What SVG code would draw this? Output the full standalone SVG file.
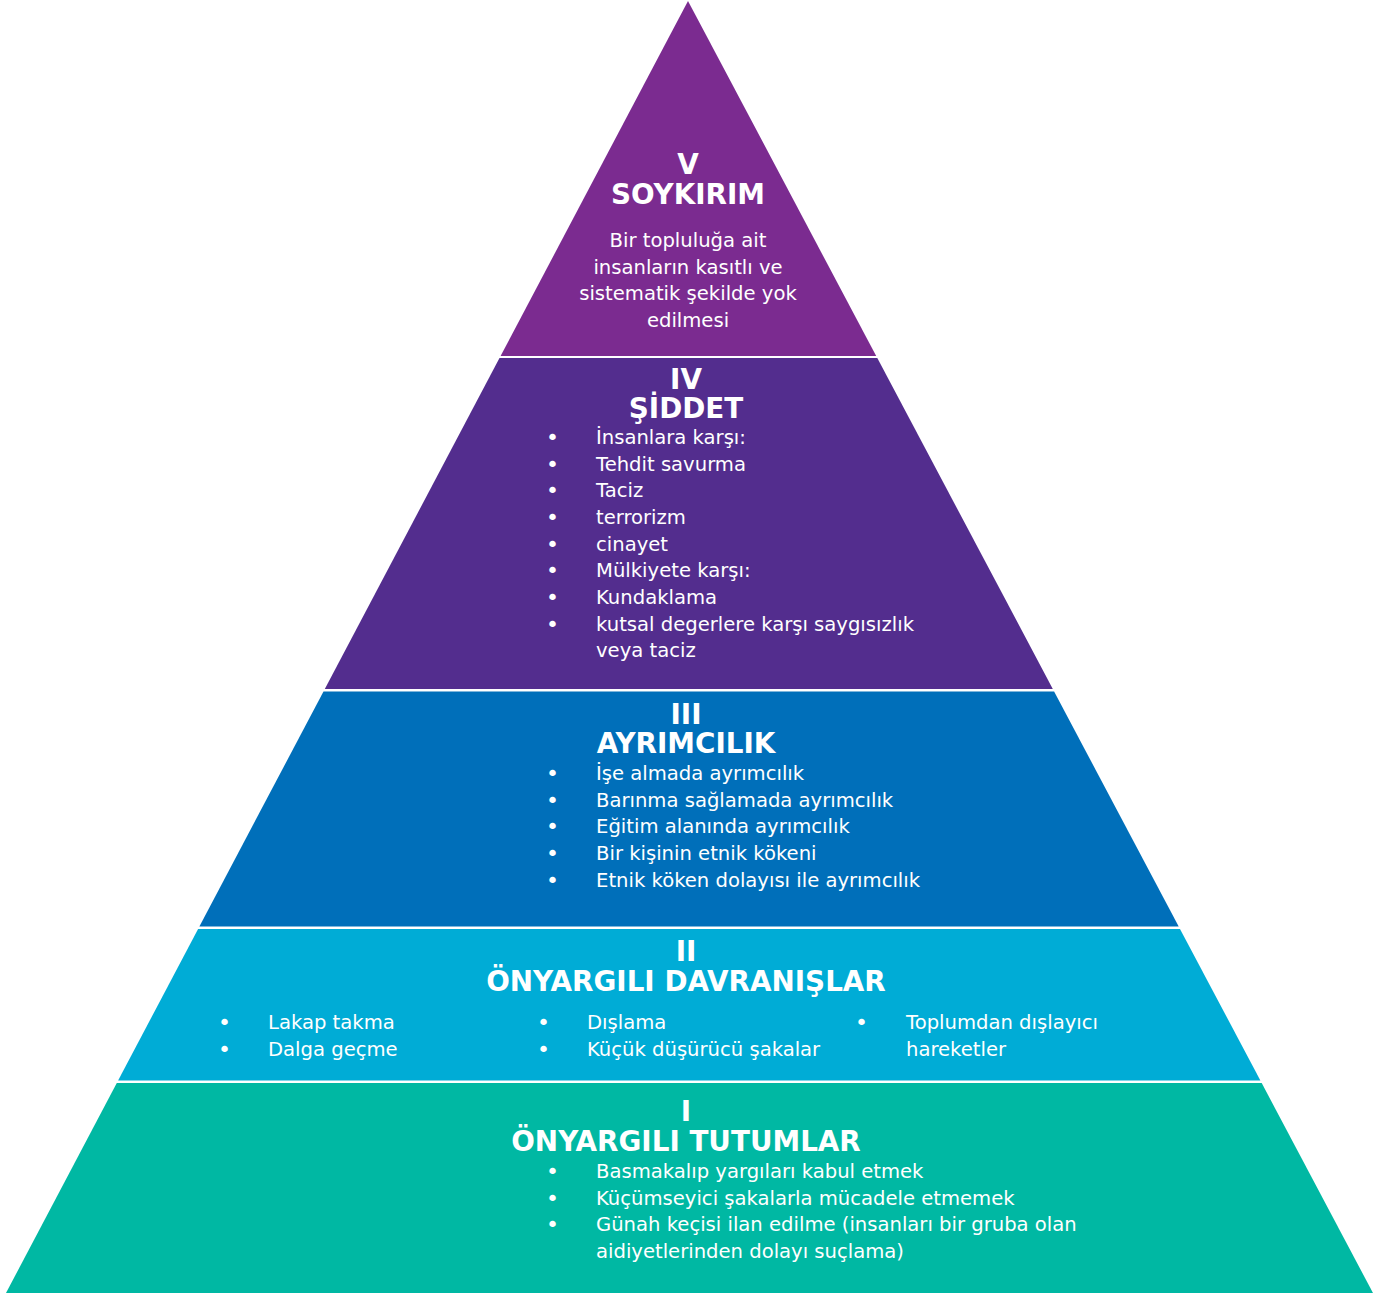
<svg xmlns="http://www.w3.org/2000/svg" width="1391" height="1293" viewBox="0 0 1391 1293">
<style>
  .t{font-family:"DejaVu Sans","Liberation Sans",sans-serif;fill:#ffffff}
  .h{font-size:27.8px;font-weight:bold;text-anchor:middle}
  .b{font-size:19.6px}
  .c{text-anchor:middle}
  .d{font-size:22px}
</style>
<rect width="1391" height="1293" fill="#ffffff"/>
<g id="level5">
  <polygon points="688,1 500.6,356 876.2,356" fill="#7B2B90"/>
  <text class="t h" x="688" y="174">V</text>
  <text class="t h" x="688" y="204">SOYKIRIM</text>
  <text class="t b c" x="688" y="247">Bir topluluğa ait</text>
  <text class="t b c" x="688" y="274">insanların kasıtlı ve</text>
  <text class="t b c" x="688" y="300">sistematik şekilde yok</text>
  <text class="t b c" x="688" y="327">edilmesi</text>
</g>
<g id="level4">
  <polygon points="499.5,358 877.3,358 1052.8,689 324.8,689" fill="#532D8E"/>
  <text class="t h" x="686" y="389">IV</text>
  <text class="t h" x="686" y="418">ŞİDDET</text>
  <g class="t b">
    <text class="d" x="546" y="445">•</text><text x="596" y="444">İnsanlara karşı:</text>
    <text class="d" x="546" y="472">•</text><text x="596" y="471">Tehdit savurma</text>
    <text class="d" x="546" y="498">•</text><text x="596" y="497">Taciz</text>
    <text class="d" x="546" y="525">•</text><text x="596" y="524">terrorizm</text>
    <text class="d" x="546" y="552">•</text><text x="596" y="551">cinayet</text>
    <text class="d" x="546" y="578">•</text><text x="596" y="577">Mülkiyete karşı:</text>
    <text class="d" x="546" y="605">•</text><text x="596" y="604">Kundaklama</text>
    <text class="d" x="546" y="632">•</text><text x="596" y="631">kutsal degerlere karşı saygısızlık</text>
    <text x="596" y="657">veya taciz</text>
  </g>
</g>
<g id="level3">
  <polygon points="323.5,691.5 1054.1,691.5 1178.7,926.5 199.4,926.5" fill="#006FBA"/>
  <text class="t h" x="686" y="724">III</text>
  <text class="t h" x="686" y="753">AYRIMCILIK</text>
  <g class="t b">
    <text class="d" x="546" y="781">•</text><text x="596" y="780">İşe almada ayrımcılık</text>
    <text class="d" x="546" y="808">•</text><text x="596" y="807">Barınma sağlamada ayrımcılık</text>
    <text class="d" x="546" y="834">•</text><text x="596" y="833">Eğitim alanında ayrımcılık</text>
    <text class="d" x="546" y="861">•</text><text x="596" y="860">Bir kişinin etnik kökeni</text>
    <text class="d" x="546" y="888">•</text><text x="596" y="887">Etnik köken dolayısı ile ayrımcılık</text>
  </g>
</g>
<g id="level2">
  <polygon points="198.1,929 1180,929 1260.4,1080.5 118.1,1080.5" fill="#00ACD6"/>
  <text class="t h" x="686" y="961">II</text>
  <text class="t h" x="686" y="991">ÖNYARGILI DAVRANIŞLAR</text>
  <g class="t b">
    <text class="d" x="218" y="1030">•</text><text x="268" y="1029">Lakap takma</text>
    <text class="d" x="218" y="1057">•</text><text x="268" y="1056">Dalga geçme</text>
    <text class="d" x="537" y="1030">•</text><text x="587" y="1029">Dışlama</text>
    <text class="d" x="537" y="1057">•</text><text x="587" y="1056">Küçük düşürücü şakalar</text>
    <text class="d" x="855" y="1030">•</text><text x="906" y="1029">Toplumdan dışlayıcı</text>
    <text x="906" y="1056">hareketler</text>
  </g>
</g>
<g id="level1">
  <polygon points="116.8,1083 1261.7,1083 1373,1293 6,1293" fill="#00B8A3"/>
  <text class="t h" x="686" y="1121">I</text>
  <text class="t h" x="686" y="1151">ÖNYARGILI TUTUMLAR</text>
  <g class="t b">
    <text class="d" x="546" y="1179">•</text><text x="596" y="1178">Basmakalıp yargıları kabul etmek</text>
    <text class="d" x="546" y="1206">•</text><text x="596" y="1205">Küçümseyici şakalarla mücadele etmemek</text>
    <text class="d" x="546" y="1232">•</text><text x="596" y="1231">Günah keçisi ilan edilme (insanları bir gruba olan</text>
    <text x="596" y="1258">aidiyetlerinden dolayı suçlama)</text>
  </g>
</g>
</svg>
